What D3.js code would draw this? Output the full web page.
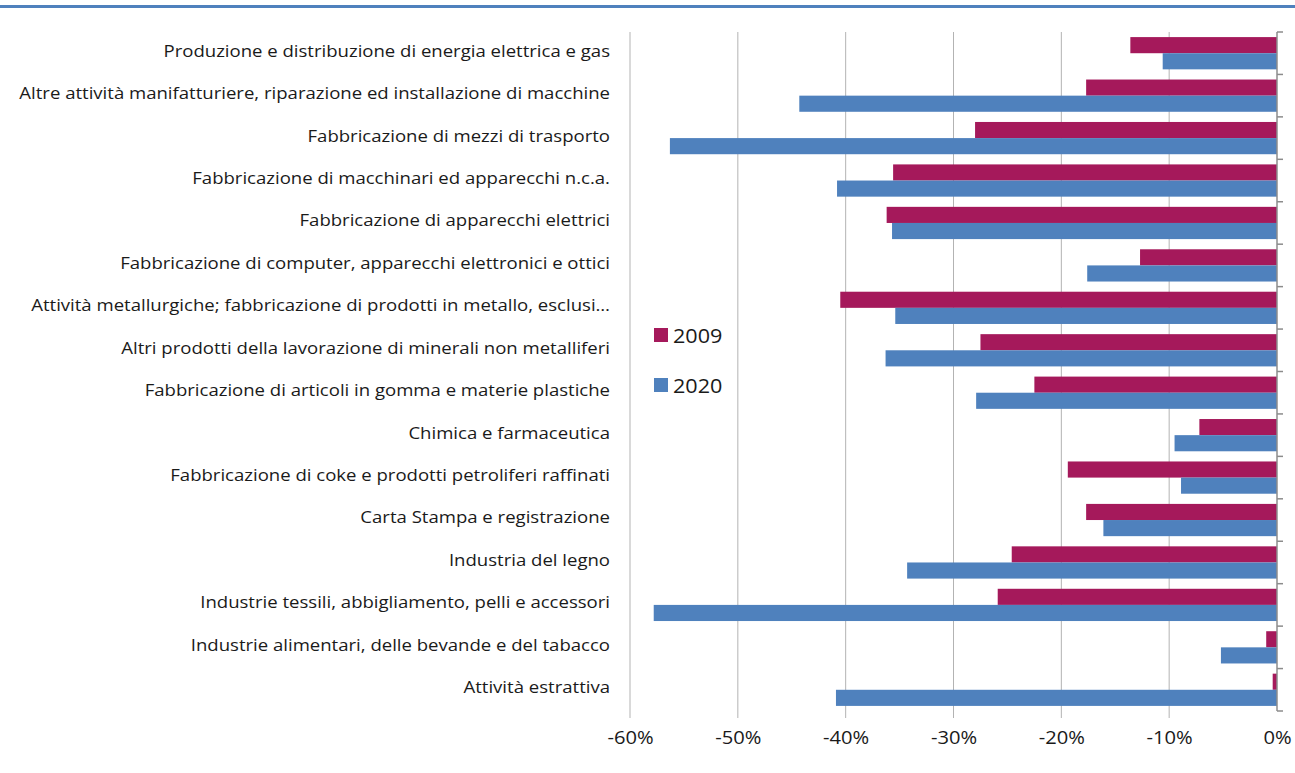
<!DOCTYPE html>
<html>
<head>
<meta charset="utf-8">
<script src="https://cdn.jsdelivr.net/npm/d3@7"></script>
<style>
  html, body { margin: 0; padding: 0; background: #fff; }
  svg { display: block; font-family: "Open Sans", sans-serif; }
</style>
</head>
<body>
<svg id="chart" width="1295" height="773"></svg>
<script>
var categories = [
  "Produzione e distribuzione di energia elettrica e gas",
  "Altre attività manifatturiere, riparazione ed installazione di macchine",
  "Fabbricazione di mezzi di trasporto",
  "Fabbricazione di macchinari ed apparecchi n.c.a.",
  "Fabbricazione di apparecchi elettrici",
  "Fabbricazione di computer, apparecchi elettronici e ottici",
  "Attività metallurgiche; fabbricazione di prodotti in metallo, esclusi…",
  "Altri prodotti della lavorazione di minerali non metalliferi",
  "Fabbricazione di articoli in gomma e materie plastiche",
  "Chimica e farmaceutica",
  "Fabbricazione di coke e prodotti petroliferi raffinati",
  "Carta Stampa e registrazione",
  "Industria del legno",
  "Industrie tessili, abbigliamento, pelli e accessori",
  "Industrie alimentari, delle bevande e del tabacco",
  "Attività estrattiva"
];
var seriesNames = ["2009", "2020"];
var values2009 = [-13.6, -17.7, -28.0, -35.6, -36.2, -12.7, -40.5, -27.5, -22.5, -7.2, -19.4, -17.7, -24.6, -25.9, -1.0, -0.4];
var values2020 = [-10.6, -44.3, -56.3, -40.8, -35.7, -17.6, -35.4, -36.3, -27.9, -9.5, -8.9, -16.1, -34.3, -57.8, -5.2, -40.9];
var xTicks = [-60, -50, -40, -30, -20, -10, 0];
var colors = { "2009": "#a5195b", "2020": "#4f81bd" };

var svg = d3.select("#chart");
var W = 1295, H = 773;

// blue rule at the top (title is cut off above)
svg.append("rect")
  .attr("x", 0).attr("y", 5).attr("width", W).attr("height", 3)
  .attr("fill", "#4f81bd");

var x = d3.scaleLinear().domain([-60, 0]).range([630, 1277]);
var y0 = d3.scaleBand().domain(categories).range([32, 711])
  .paddingInner(0.24).paddingOuter(0.12);
var y1 = d3.scaleBand().domain(seriesNames).range([0, y0.bandwidth()]);

// gridlines
svg.append("g")
  .selectAll("line")
  .data(xTicks.filter(function(d) { return d !== 0; }))
  .join("line")
  .attr("x1", function(d) { return x(d); })
  .attr("x2", function(d) { return x(d); })
  .attr("y1", 32).attr("y2", 718)
  .attr("stroke", "#b3b3b3").attr("stroke-width", 1);

var rows = categories.map(function(c, i) {
  return { cat: c, vals: [ { s: "2009", v: values2009[i] }, { s: "2020", v: values2020[i] } ] };
});

var groups = svg.append("g").selectAll("g")
  .data(rows)
  .join("g")
  .attr("transform", function(d) { return "translate(0," + y0(d.cat) + ")"; });

groups.selectAll("rect")
  .data(function(d) { return d.vals; })
  .join("rect")
  .attr("x", function(d) { return x(d.v); })
  .attr("y", function(d) { return y1(d.s); })
  .attr("width", function(d) { return x(0) - x(d.v); })
  .attr("height", y1.bandwidth())
  .attr("fill", function(d) { return colors[d.s]; });

// vertical axis at 0 with category ticks on the right
var bounds = d3.range(categories.length + 1).map(function(i) { return 32 + i * (679 / categories.length); });
svg.append("line")
  .attr("x1", x(0)).attr("x2", x(0)).attr("y1", 32).attr("y2", 711)
  .attr("stroke", "#8c8c8c").attr("stroke-width", 1.5);
svg.append("g").selectAll("line")
  .data(bounds)
  .join("line")
  .attr("x1", x(0)).attr("x2", x(0) + 6)
  .attr("y1", function(d) { return d; }).attr("y2", function(d) { return d; })
  .attr("stroke", "#8c8c8c").attr("stroke-width", 1.5);

// category labels (the source text is a bit stretched horizontally)
svg.append("g").selectAll("text")
  .data(categories)
  .join("text")
  .attr("transform", function(d) {
    return "translate(610," + (y0(d) + y0.bandwidth() / 2 - 3) + ") scale(1.16,1)";
  })
  .attr("text-anchor", "end")
  .attr("dominant-baseline", "central")
  .attr("font-size", 16)
  .attr("fill", "#1a1a1a")
  .text(function(d) { return d; });

// x axis labels
var xAxis = d3.axisBottom(x).tickValues(xTicks)
  .tickFormat(function(d) { return d + "%"; }).tickSize(0).tickPadding(0);
var gx = svg.append("g").attr("transform", "translate(0,731)").call(xAxis);
gx.select(".domain").remove();
gx.selectAll("text")
  .attr("font-family", "Open Sans, sans-serif")
  .attr("font-size", 18)
  .attr("transform", "scale(1.12,1)")
  .attr("fill", "#1a1a1a");

// legend
var legend = svg.append("g").selectAll("g")
  .data(seriesNames)
  .join("g")
  .attr("transform", function(d, i) { return "translate(654," + (335 + i * 50) + ")"; });
legend.append("rect")
  .attr("x", 0).attr("y", -7).attr("width", 14).attr("height", 14)
  .attr("fill", function(d) { return colors[d]; });
legend.append("text")
  .attr("transform", "translate(19,0) scale(1.08,1)")
  .attr("dominant-baseline", "central")
  .attr("font-size", 20)
  .attr("fill", "#1a1a1a")
  .text(function(d) { return d; });
</script>
</body>
</html>
